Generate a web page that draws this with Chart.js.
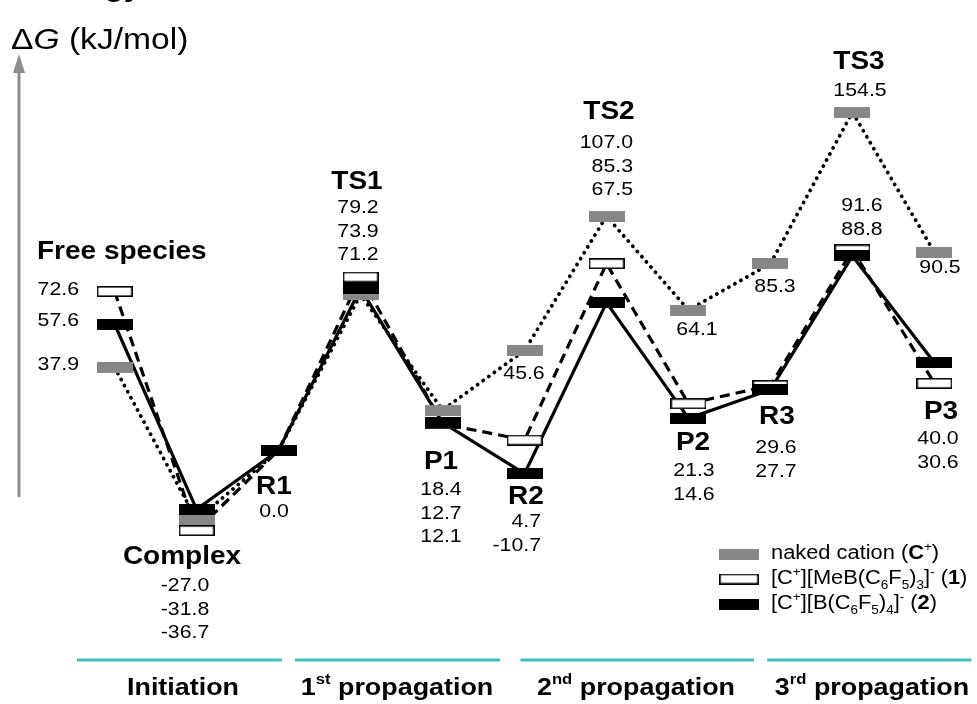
<!DOCTYPE html>
<html>
<head>
<meta charset="utf-8">
<script src="https://cdn.jsdelivr.net/npm/chart.js@4/dist/chart.umd.min.js"></script>
<style>
html,body{margin:0;padding:0;background:#fff;}
#wrap{width:977px;height:704px;}
</style>
</head>
<body>
<div id="wrap"><canvas id="c" width="977" height="704"></canvas></div>
<script>
// ---- data ----
const categories = ['Free species','Complex','R1','TS1','P1','R2','TS2','P2','R3','TS3','P3'];
const nakedCation = [37.9, -31.8, 0.0, 71.2, 18.4, 45.6, 107.0, 64.1, 85.3, 154.5, 90.5];
const anionMeB    = [72.6, -36.7, 0.0, 79.2, 12.1, 4.7, 85.3, 21.3, 29.6, 91.6, 30.6];
const anionBC6F5  = [57.6, -27.0, 0.0, 73.9, 12.7, -10.7, 67.5, 14.6, 27.7, 88.8, 40.0];
const stageNames  = ['Initiation','1st propagation','2nd propagation','3rd propagation'];
const stageSup    = ['', 'st', 'nd', 'rd'];

// ---- styling helpers ----
const FONT = '"Liberation Sans", Arial, Helvetica, sans-serif';
const SX = 1.12;
function mkBar(fill, stroke){
  const c = document.createElement('canvas');
  c.width = 36; c.height = 11;
  const g = c.getContext('2d');
  g.fillStyle = fill; g.fillRect(0,0,36,11);
  if (stroke){ g.strokeStyle = stroke; g.lineWidth = 1.6; g.strokeRect(0.8,0.8,34.4,9.4); }
  return c;
}
const barGrey = mkBar('#878787');
const barWhite = mkBar('#ffffff','#000000');
const barBlack = mkBar('#000000');

function pts(arr){ return arr.map((v,i)=>({x:i,y:v})); }

function rich(ctx, segs, x, y, align, size, bold){
  const parts = segs.map(s=>{
    if (typeof s === 'string') s = {t:s};
    const small = s.sup || s.sub;
    const fs = small ? size*0.62 : size;
    const font = (s.i?'italic ':'') + ((s.b||bold)?'bold ':'') + fs + 'px ' + FONT;
    ctx.font = font;
    return {t:s.t, font, w:ctx.measureText(s.t).width, dy: s.sup ? -size*0.33 : (s.sub ? size*0.33 : 0)};
  });
  const total = parts.reduce((a,p)=>a+p.w,0);
  ctx.save();
  ctx.translate(x,y); ctx.scale(SX,1);
  let cx = align==='center' ? -total/2 : (align==='right' ? -total : 0);
  ctx.textBaseline='middle'; ctx.textAlign='left'; ctx.fillStyle='#000';
  parts.forEach(p=>{ ctx.font=p.font; ctx.fillText(p.t, cx, p.dy); cx+=p.w; });
  ctx.restore();
}
const f1 = v => v.toFixed(1);

// label layout (text positions only)
const nameLayout = [
  [37,252,'left'],[182,557,'center'],[274,487,'center'],[357,182,'center'],[441,462,'center'],
  [526,497,'center'],[609,112,'center'],[693,443,'center'],[777,417,'center'],[859,62,'center'],[941,412,'center']
];
// value blocks: [categoryIndex, series list, x, y0, align]
const S = {g:nakedCation, w:anionMeB, b:anionBC6F5};
const valueBlocks = [
  [0,['w'],79,290,'right'],[0,['b'],79,321,'right'],[0,['g'],79,365,'right'],
  [1,['b','g','w'],185,586,'center'],
  [2,['b'],274,512,'center'],
  [3,['w','b','g'],358,208,'center'],
  [4,['g','b','w'],441,490,'center'],
  [5,['g'],524,374,'center'],
  [5,['w','b'],541,522,'right'],
  [6,['g','w','b'],633,143,'right'],
  [7,['g'],697,330,'center'],
  [7,['w','b'],694,471,'center'],
  [8,['g'],775,287,'center'],
  [8,['w','b'],776,448,'center'],
  [9,['g'],860,91,'center'],
  [9,['w','b'],862,206,'center'],
  [10,['g'],940,268,'center'],
  [10,['b','w'],938,439,'center']
];
const stageSpans = [[-0.46,2.04],[2.2,4.7],[4.95,7.8],[7.96,10.45]];
const stageCenters = [183,397,636,872];

const deco = {
  id:'deco',
  afterDraw(chart){
    const ctx = chart.ctx;
    const xs = chart.scales.x;
    // top cut-off title and axis title
    rich(ctx,['Energy'],35,-12,'left',28,true);
    rich(ctx,['\u0394',{t:'G',i:true},' (kJ/mol)'],11,41,'left',30,false);
    // axis arrow
    ctx.save();
    ctx.strokeStyle='#8e8e8e'; ctx.fillStyle='#8e8e8e'; ctx.lineWidth=3;
    ctx.beginPath(); ctx.moveTo(19,497); ctx.lineTo(19,68); ctx.stroke();
    ctx.beginPath(); ctx.moveTo(19,54); ctx.lineTo(25,73); ctx.lineTo(13,73); ctx.closePath(); ctx.fill();
    ctx.restore();
    // names
    categories.forEach((n,i)=>{ const L=nameLayout[i]; rich(ctx,[n],L[0],L[1],L[2],25,true); });
    // values
    valueBlocks.forEach(b=>{
      b[1].forEach((k,j)=>{ rich(ctx,[f1(S[k][b[0]])],b[2],b[3]+j*23.5,b[4],19,false); });
    });
    // legend
    const leg = [
      [barGrey, ['naked cation (',{t:'C',b:true},{t:'+',sup:true},')']],
      [barWhite, ['[C',{t:'+',sup:true},'][MeB(C',{t:'6',sub:true},'F',{t:'5',sub:true},')',{t:'3',sub:true},']',{t:'-',sup:true},' (',{t:'1',b:true},')']],
      [barBlack, ['[C',{t:'+',sup:true},'][B(C',{t:'6',sub:true},'F',{t:'5',sub:true},')',{t:'4',sub:true},']',{t:'-',sup:true},' (',{t:'2',b:true},')']]
    ];
    leg.forEach((l,i)=>{
      const y = 554 + i*25;
      ctx.drawImage(l[0],0,0,36,11,719,y-5.5,40,11);
      rich(ctx,l[1],771,y,'left',19.5,false);
    });
    // stage lines and names
    ctx.save(); ctx.strokeStyle='#3fbfbf'; ctx.lineWidth=3;
    stageSpans.forEach(s=>{
      ctx.beginPath(); ctx.moveTo(xs.getPixelForValue(s[0]),660); ctx.lineTo(xs.getPixelForValue(s[1]),660); ctx.stroke();
    });
    ctx.restore();
    stageNames.forEach((n,i)=>{
      const sup = stageSup[i];
      const segs = sup ? [n.slice(0,1),{t:sup,sup:true}, n.slice(1+sup.length)] : [n];
      rich(ctx,segs,stageCenters[i],688,'center',24,true);
    });
  }
};

new Chart(document.getElementById('c'), {
  type:'line',
  data:{
    datasets:[
      {label:'naked cation line', data:pts(nakedCation), borderColor:'#000', borderWidth:3.8, borderDash:[0.1,6.8], borderCapStyle:'round', pointRadius:0, order:5, fill:false},
      {label:'[C+][MeB(C6F5)3]- line', data:pts(anionMeB), borderColor:'#000', borderWidth:3.2, borderDash:[10,6], pointRadius:0, order:4, fill:false},
      {label:'[C+][B(C6F5)4]- line', data:pts(anionBC6F5), borderColor:'#000', borderWidth:3.2, pointRadius:0, order:3, fill:false},
      {label:'naked cation (C+)', data:pts(nakedCation), showLine:false, pointStyle:barGrey, pointRadius:5, order:2},
      {label:'[C+][MeB(C6F5)3]- (1)', data:pts(anionMeB), showLine:false, pointStyle:barWhite, pointRadius:5, order:1},
      {label:'[C+][B(C6F5)4]- (2)', data:pts(anionBC6F5), showLine:false, pointStyle:barBlack, pointRadius:5, order:0}
    ]
  },
  options:{
    responsive:false, animation:false, devicePixelRatio:1,
    layout:{padding:0},
    scales:{
      x:{type:'linear', min:-1.325, max:10.446, display:false},
      y:{type:'linear', min:-113.2, max:203.05, display:false}
    },
    plugins:{legend:{display:false}, tooltip:{enabled:false}},
    elements:{line:{tension:0}}
  },
  plugins:[deco]
});
</script>
</body>
</html>
